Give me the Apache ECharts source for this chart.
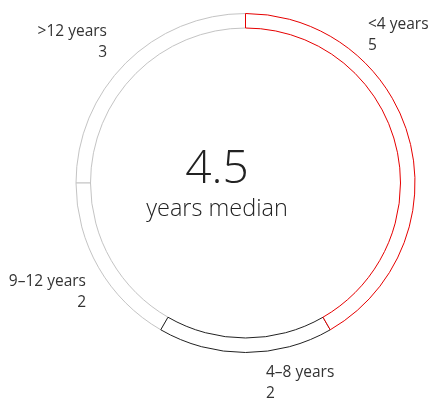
<!DOCTYPE html>
<html>
<head>
<meta charset="utf-8">
<style>
  html, body { margin: 0; padding: 0; background: #fff; }
  #chart { width: 434px; height: 399px; }
</style>
<script src="https://cdn.jsdelivr.net/npm/echarts@6/dist/echarts.min.js"></script>
</head>
<body>
<div id="chart"></div>
<script>
// Tenure buckets, listed clockwise from 12 o'clock
const categories = ['<4 years', '4–8 years', '9–12 years', '>12 years'];
const counts = [5, 2, 2, 3];
const strokeColors = ['#e60000', '#222222', '#c4c4c4', '#c4c4c4'];
const medianValue = '4.5';
const medianCaption = 'years median';

// Where each bucket's label sits (x, top y, alignment)
const labelSpots = {
  '<4 years':   { x: 368, y: 14,  align: 'left' },
  '4–8 years':  { x: 266, y: 362, align: 'left' },
  '9–12 years': { x: 86,  y: 271, align: 'right' },
  '>12 years':  { x: 107, y: 21,  align: 'right' }
};

const FONT = '"Open Sans", "Noto Sans", sans-serif';

// Drawn counter-clockwise in reverse order so the red arc sits on top
const items = categories.map((name, i) => ({
  name: name,
  value: counts[i],
  itemStyle: { color: '#ffffff', borderColor: strokeColors[i], borderWidth: 1 }
})).reverse();

const chart = echarts.init(document.getElementById('chart'), null, { renderer: 'canvas' });
chart.setOption({
  animation: false,
  backgroundColor: '#ffffff',
  series: [{
    type: 'pie',
    center: [245.5, 183],
    radius: [155, 169.5],
    startAngle: 90,
    clockwise: false,
    silent: true,
    avoidLabelOverlap: false,
    data: items,
    label: {
      show: true,
      position: 'inside',
      overflow: 'none',
      formatter: '{b}\n{c}',
      fontFamily: FONT,
      fontSize: 15.5,
      lineHeight: 21,
      color: '#333333'
    },
    labelLine: { show: false },
    labelLayout: function (params) {
      const spot = labelSpots[items[params.dataIndex].name];
      return { x: spot.x, y: spot.y, align: spot.align, verticalAlign: 'top', hideOverlap: false };
    }
  }],
  graphic: [
    {
      type: 'text',
      left: 'center',
      top: 147,
      style: {
        text: medianValue,
        fontFamily: FONT,
        fontSize: 46,
        fontWeight: 300,
        fill: '#222222'
      },
      x: 1
    },
    {
      type: 'text',
      left: 'center',
      top: 197,
      style: {
        text: medianCaption,
        fontFamily: FONT,
        fontSize: 23.5,
        fontWeight: 300,
        fill: '#222222'
      },
      x: 1
    }
  ]
});
</script>
</body>
</html>
